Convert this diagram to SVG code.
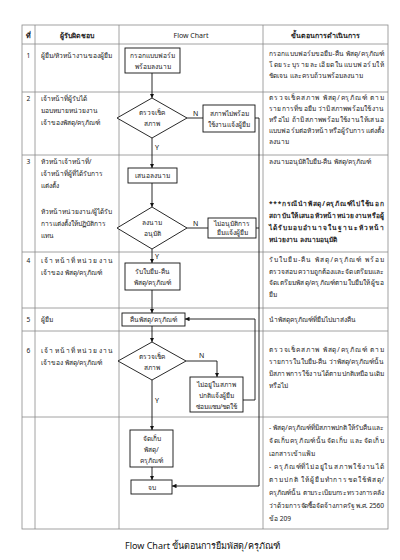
<svg xmlns="http://www.w3.org/2000/svg" width="400" height="560" viewBox="0 0 400 560">
<defs>
<marker id="ah" viewBox="0 0 6 6" refX="6" refY="3" markerWidth="5" markerHeight="5" orient="auto"><path d="M0,0 L6,3 L0,6 z" fill="#111"/></marker>
<style>
text{font-family:"Noto Sans","DejaVu Sans",sans-serif;font-size:6.6px;fill:#222}
.b{font-weight:bold}
.c{text-anchor:middle}
.h{font-size:7px}
.grid{stroke:#8a8a8a;stroke-width:0.8;fill:none}
.box{fill:#fff;stroke:#111;stroke-width:0.9}
.ln{stroke:#111;stroke-width:0.9;fill:none}
.ar{stroke:#111;stroke-width:0.9;fill:none;marker-end:url(#ah)}
.lab{font-size:7px;fill:#111}
.t{font-size:9px;fill:#111}
</style>
</defs>
<rect width="400" height="560" fill="#fff"/>
<g id="table">
<rect class="grid" x="22" y="25" width="366" height="504"/>
<line class="grid" x1="35" y1="25" x2="35" y2="529"/>
<line class="grid" x1="119" y1="25" x2="119" y2="529"/>
<line class="grid" x1="263" y1="25" x2="263" y2="529"/>
<line class="grid" x1="22" y1="44" x2="388" y2="44"/>
<line class="grid" x1="22" y1="92" x2="388" y2="92"/>
<line class="grid" x1="22" y1="155" x2="388" y2="155"/>
<line class="grid" x1="22" y1="252" x2="388" y2="252"/>
<line class="grid" x1="22" y1="308" x2="388" y2="308"/>
<line class="grid" x1="22" y1="331" x2="388" y2="331"/>
<line class="grid" x1="22" y1="417" x2="388" y2="417"/>
</g>
<g id="header">
<text class="b c h" x="28.5" y="37.5">ที่</text>
<text class="b c h" x="77" y="37.5">ผู้รับผิดชอบ</text>
<text class="c h" x="191" y="37.5">Flow Chart</text>
<text class="b c h" x="325.5" y="37.5">ขั้นตอนการดำเนินการ</text>
</g>
<g id="col-left">
<text class="c" x="28.5" y="58">1</text>
<text x="41" y="58">ผู้ยืม/หัวหน้างานของผู้ยืม</text>
<text class="c" x="28.5" y="101">2</text>
<text x="41" y="101">เจ้าหน้าที่ผู้รับได้</text>
<text x="41" y="113">มอบหมายหน่วยงาน</text>
<text x="41" y="125">เจ้าของพัสดุ/ครุภัณฑ์</text>
<text class="c" x="28.5" y="164">3</text>
<text x="41" y="164">หัวหน้าเจ้าหน้าที่/</text>
<text x="41" y="176">เจ้าหน้าที่ผู้ที่ได้รับการ</text>
<text x="41" y="188">แต่งตั้ง</text>
<text x="41" y="214">หัวหน้าหน่วยงาน/ผู้ได้รับ</text>
<text x="41" y="226">การแต่งตั้งให้ปฏิบัติการ</text>
<text x="41" y="238">แทน</text>
<text class="c" x="28.5" y="263">4</text>
<text x="41" y="263" textLength="72" lengthAdjust="spacing">เจ้าหน้าที่หน่วยงาน</text>
<text x="41" y="275">เจ้าของ พัสดุ/ครุภัณฑ์</text>
<text class="c" x="28.5" y="322">5</text>
<text x="41" y="322">ผู้ยืม</text>
<text class="c" x="28.5" y="353">6</text>
<text x="41" y="353" textLength="72" lengthAdjust="spacing">เจ้าหน้าที่หน่วยงาน</text>
<text x="41" y="365">เจ้าของ พัสดุ/ครุภัณฑ์</text>
</g>
<g id="col-right">
<text x="269" y="56" textLength="115" lengthAdjust="spacing">กรอกแบบฟอร์มขอยืม-คืน พัสดุ/ครุภัณฑ์</text>
<text x="269" y="67" textLength="115" lengthAdjust="spacing">โดยระบุรายละเอียดในแบบฟอร์มให้</text>
<text x="269" y="78">ชัดเจน และครบถ้วนพร้อมลงนาม</text>
<text x="269" y="100" textLength="115" lengthAdjust="spacing">ตรวจเช็คสภาพ พัสดุ/ครุภัณฑ์ ตาม</text>
<text x="269" y="111" textLength="115" lengthAdjust="spacing">รายการที่ขอยืม ว่ามีสภาพพร้อมใช้งาน</text>
<text x="269" y="122" textLength="115" lengthAdjust="spacing">หรือไม่ ถ้ามีสภาพพร้อมใช้งานให้เสนอ</text>
<text x="269" y="133" textLength="115" lengthAdjust="spacing">แบบฟอร์มต่อหัวหน้าหรือผู้รับการแต่งตั้ง</text>
<text x="269" y="144">ลงนาม</text>
<text x="269" y="164">ลงนามอนุมัติใบยืม-คืน พัสดุ/ครุภัณฑ์</text>
<text class="b" x="269" y="206" textLength="115" lengthAdjust="spacing">***กรณีนำพัสดุ/ครุภัณฑ์ไปใช้นอก</text>
<text class="b" x="269" y="218" textLength="115" lengthAdjust="spacing">สถาบันให้เสนอหัวหน้าหน่วยงานหรือผู้</text>
<text class="b" x="269" y="230" textLength="115" lengthAdjust="spacing">ได้รับมอบอำนาจในฐานะหัวหน้า</text>
<text class="b" x="269" y="242">หน่วยงาน ลงนามอนุมัติ</text>
<text x="269" y="262" textLength="115" lengthAdjust="spacing">รับใบยืม-คืน พัสดุ/ครุภัณฑ์ พร้อม</text>
<text x="269" y="274" textLength="115" lengthAdjust="spacing">ตรวจสอบความถูกต้องและจัดเตรียมและ</text>
<text x="269" y="285" textLength="115" lengthAdjust="spacing">จัดเตรียมพัสดุ/ครุภัณฑ์ตามใบยืมให้ผู้ขอ</text>
<text x="269" y="297">ยืม</text>
<text x="269" y="322">นำพัสดุครุภัณฑ์ที่ยืมไปมาส่งคืน</text>
<text x="269" y="352" textLength="115" lengthAdjust="spacing">ตรวจเช็คสภาพ พัสดุ/ครุภัณฑ์ ตาม</text>
<text x="269" y="364" textLength="115" lengthAdjust="spacing">รายการในใบยืม-คืน ว่าพัสดุ/ครุภัณฑ์นั้น</text>
<text x="269" y="376" textLength="115" lengthAdjust="spacing">มีสภาพการใช้งานได้ตามปกติเหมือนเดิม</text>
<text x="269" y="388">หรือไม่</text>
<text x="269" y="430" textLength="115" lengthAdjust="spacing">- พัสดุ/ครุภัณฑ์ที่มีสภาพปกติให้รับคืนและ</text>
<text x="269" y="443" textLength="115" lengthAdjust="spacing">จัดเก็บครุภัณฑ์นั้นจัดเก็บ และจัดเก็บ</text>
<text x="269" y="456">เอกสารเข้าแฟ้ม</text>
<text x="269" y="469" textLength="115" lengthAdjust="spacing">- ครุภัณฑ์ที่ไม่อยู่ในสภาพใช้งานได้</text>
<text x="269" y="482" textLength="115" lengthAdjust="spacing">ตามปกติ ให้ผู้ยืมทำการชดใช้พัสดุ/</text>
<text x="269" y="495" textLength="115" lengthAdjust="spacing">ครุภัณฑ์นั้น ตามระเบียบกระทรวงการคลัง</text>
<text x="269" y="508" textLength="115" lengthAdjust="spacing">ว่าด้วยการจัดซื้อจัดจ้างภาครัฐ พ.ศ. 2560</text>
<text x="269" y="521">ข้อ 209</text>
</g>
<g id="connectors">
<line class="ar" x1="152" y1="73" x2="152" y2="98"/>
<line class="ln" x1="187" y1="118" x2="203" y2="118"/>
<polyline class="ar" points="255,118 259,118 259,486 172,486"/>
<line class="ar" x1="152" y1="138" x2="152" y2="168"/>
<line class="ar" x1="152" y1="183" x2="152" y2="207"/>
<line class="ln" x1="187" y1="228" x2="208" y2="228"/>
<line class="ln" x1="256" y1="228" x2="259" y2="228"/>
<line class="ar" x1="152" y1="249" x2="152" y2="263"/>
<line class="ar" x1="152" y1="290" x2="152" y2="313"/>
<line class="ar" x1="152" y1="326" x2="152" y2="342"/>
<polyline class="ar" points="186,361 217,361 217,377"/>
<polyline class="ar" points="243,400 255,400 255,319 185,319"/>
<line class="ar" x1="152" y1="380" x2="152" y2="430"/>
<line class="ar" x1="152" y1="467" x2="152" y2="480"/>
<text class="lab" x="193" y="116">N</text>
<text class="lab" x="155" y="150">Y</text>
<text class="lab" x="193" y="226">N</text>
<text class="lab" x="155" y="259">Y</text>
<text class="lab" x="199" y="358">N</text>
<text class="lab" x="155" y="403">Y</text>
</g>
<g id="n1"><rect class="box" x="125" y="48" width="55" height="25"/><text class="c" x="152.5" y="58">กรอกแบบฟอร์ม</text><text class="c" x="152.5" y="69">พร้อมลงนาม</text></g>
<g id="d1"><polygon class="box" points="152,98 187,118 152,138 117,118"/><text class="c" x="152" y="115">ตรวจเช็ค</text><text class="c" x="152" y="126">สภาพ</text></g>
<g id="n2"><rect class="box" x="203" y="105" width="52" height="27"/><text class="c" x="229" y="115.5">สภาพไม่พร้อม</text><text class="c" x="229" y="127">ใช้งานแจ้งผู้ยืม</text></g>
<g id="n3"><rect class="box" x="128" y="168" width="49" height="15"/><text class="c" x="152.5" y="178">เสนอลงนาม</text></g>
<g id="d2"><polygon class="box" points="152,207 187,228 152,249 117,228"/><text class="c" x="152" y="225">ลงนาม</text><text class="c" x="152" y="236">อนุมัติ</text></g>
<g id="n4"><rect class="box" x="208" y="218" width="48" height="20"/><text class="c" x="232" y="226">ไม่อนุมัติการ</text><text class="c" x="232" y="235">ยืมแจ้งผู้ยืม</text></g>
<g id="n5"><rect class="box" x="125" y="263" width="55" height="27"/><text class="c" x="152.5" y="274">รับใบยืม-คืน</text><text class="c" x="152.5" y="285">พัสดุ/ครุภัณฑ์</text></g>
<g id="n6"><rect class="box" x="122" y="313" width="63" height="13"/><text class="c" x="153.5" y="322">คืนพัสดุ/ครุภัณฑ์</text></g>
<g id="d3"><polygon class="box" points="152,342 186,361 152,380 118,361"/><text class="c" x="152" y="359">ตรวจเช็ค</text><text class="c" x="152" y="370">สภาพ</text></g>
<g id="n7"><rect class="box" x="190" y="377" width="53" height="35"/><text class="c" x="216.5" y="387">ไม่อยู่ในสภาพ</text><text class="c" x="216.5" y="398">ปกติแจ้งผู้ยืม</text><text class="c" x="216.5" y="409">ซ่อมแซม/ชดใช้</text></g>
<g id="n8"><rect class="box" x="130" y="430" width="43" height="37"/><text class="c" x="151.5" y="441">จัดเก็บ</text><text class="c" x="151.5" y="452">พัสดุ/</text><text class="c" x="151.5" y="463">ครุภัณฑ์</text></g>
<g id="n9"><rect class="box" x="131" y="480" width="41" height="14"/><text class="c" x="151.5" y="489.5">จบ</text></g>
<text class="t" x="125" y="549">Flow Chart ขั้นตอนการยืมพัสดุ/ครุภัณฑ์</text>
</svg>
